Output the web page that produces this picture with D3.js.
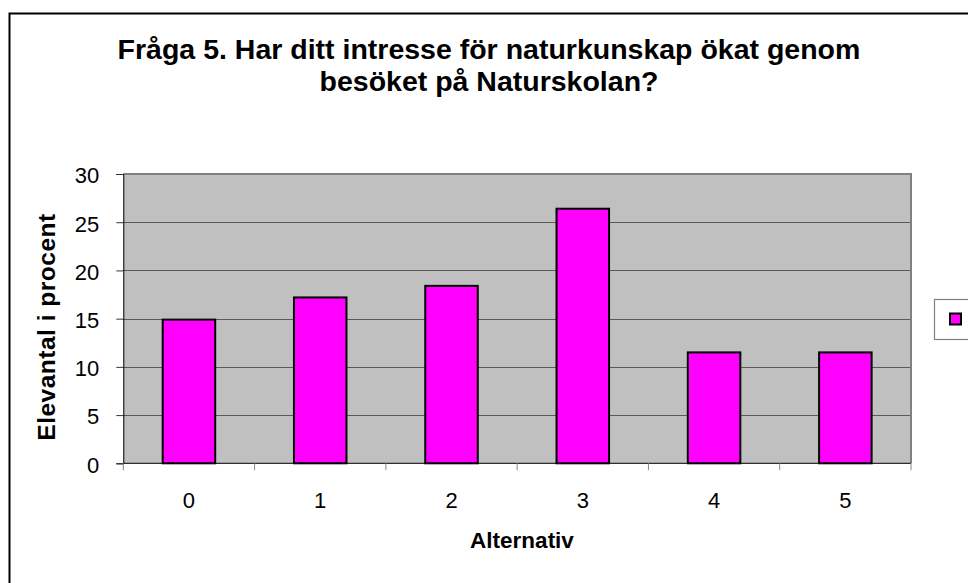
<!DOCTYPE html>
<html lang="sv">
<head>
<meta charset="UTF-8">
<title>Fråga 5</title>
<script src="https://d3js.org/d3.v7.min.js"></script>
<style>
  body { margin: 0; background: #fff; }
  text { font-family: "Liberation Sans", Arial, sans-serif; fill: #000; }
</style>
</head>
<body>
<script>
  // data
  const categories = ["0", "1", "2", "3", "4", "5"]
  const values = [14.9, 17.2, 18.4, 26.4, 11.5, 11.5]
  const yTicks = [0, 5, 10, 15, 20, 25, 30]
  const titleLines = ["Fråga 5. Har ditt intresse för naturkunskap ökat genom", "besöket på Naturskolan?"]

  const W = 968, H = 583
  const plot = {left: 123.3, top: 174, right: 911, bottom: 463.3}

  const svg = d3.select("body").append("svg")
    .attr("width", W).attr("height", H)

  // outer frame, runs off the right and bottom edge
  svg.append("rect")
    .attr("x", 9.5).attr("y", 13.5)
    .attr("width", 980).attr("height", 600)
    .attr("fill", "#fff").attr("stroke", "#000").attr("stroke-width", 2)

  const x = d3.scaleBand()
    .domain(categories)
    .range([plot.left, plot.right])
  const y = d3.scaleLinear()
    .domain([0, 30])
    .range([plot.bottom, plot.top])

  // plot area
  svg.append("rect")
    .attr("x", plot.left).attr("y", plot.top)
    .attr("width", plot.right - plot.left).attr("height", plot.bottom - plot.top)
    .attr("fill", "#c0c0c0")

  // gridlines
  svg.append("g").selectAll("line")
    .data(yTicks.filter(d => d > 0 && d < 30))
    .join("line")
      .attr("x1", plot.left).attr("x2", plot.right)
      .attr("y1", d => Math.round(y(d)) + 0.5).attr("y2", d => Math.round(y(d)) + 0.5)
      .attr("stroke", "#5a5a5a").attr("stroke-width", 1)

  // top and right border of plot area
  svg.append("path")
    .attr("d", `M${plot.left},${plot.top} H${plot.right} V${plot.bottom}`)
    .attr("fill", "none").attr("stroke", "#808080").attr("stroke-width", 2)

  // bars
  const bw = x.bandwidth() * 0.4
  svg.append("g").selectAll("rect")
    .data(values)
    .join("rect")
      .attr("x", (d, i) => x(categories[i]) + (x.bandwidth() - bw) / 2)
      .attr("y", d => y(d))
      .attr("width", bw)
      .attr("height", d => y(0) - y(d))
      .attr("fill", "#ff00ff")
      .attr("stroke", "#000").attr("stroke-width", 2)

  // y axis
  const yAxis = svg.append("g")
    .attr("transform", `translate(${plot.left},0)`)
    .call(d3.axisLeft(y).tickValues(yTicks).tickSize(7).tickPadding(17))
  yAxis.select(".domain").attr("stroke", "#000")
  yAxis.selectAll(".tick line").attr("stroke", "#333")
  yAxis.selectAll(".tick text")
    .attr("font-family", "Liberation Sans, Arial, sans-serif")
    .attr("font-size", 22).attr("fill", "#000").attr("dy", "0.4em")

  // x axis: ticks on category boundaries
  const xAxis = svg.append("g")
    .attr("transform", `translate(0,${plot.bottom})`)
  xAxis.append("line")
    .attr("x1", plot.left).attr("x2", plot.right)
    .attr("stroke", "#000")
  xAxis.selectAll(".bt")
    .data(categories.concat(["end"]))
    .join("line")
      .attr("class", "bt")
      .attr("x1", (d, i) => plot.left + i * x.step()).attr("x2", (d, i) => plot.left + i * x.step())
      .attr("y1", 0).attr("y2", 7)
      .attr("stroke", "#888")
  xAxis.selectAll("text")
    .data(categories)
    .join("text")
      .attr("x", d => x(d) + x.bandwidth() / 2)
      .attr("y", 45)
      .attr("text-anchor", "middle")
      .attr("font-size", 22)
      .text(d => d)

  // titles
  svg.append("g").selectAll("text")
    .data(titleLines)
    .join("text")
      .attr("x", 489).attr("y", (d, i) => 59 + i * 32)
      .attr("text-anchor", "middle")
      .attr("font-size", 28.5).attr("font-weight", "bold")
      .text(d => d)

  svg.append("text")
    .attr("x", 522).attr("y", 548)
    .attr("text-anchor", "middle")
    .attr("font-size", 22.5).attr("font-weight", "bold")
    .text("Alternativ")

  svg.append("text")
    .attr("transform", "translate(54.5,327) rotate(-90)")
    .attr("text-anchor", "middle")
    .attr("font-size", 24.5).attr("font-weight", "bold")
    .attr("letter-spacing", 0.5)
    .text("Elevantal i procent")

  // legend (entry without label)
  const legend = svg.append("g")
  legend.append("rect")
    .attr("x", 934.5).attr("y", 299.5)
    .attr("width", 60).attr("height", 40)
    .attr("fill", "#fff").attr("stroke", "#808080").attr("stroke-width", 1.2)
  legend.append("rect")
    .attr("x", 950).attr("y", 313.5)
    .attr("width", 11).attr("height", 11)
    .attr("fill", "#ff00ff").attr("stroke", "#000").attr("stroke-width", 2)
</script>
</body>
</html>
